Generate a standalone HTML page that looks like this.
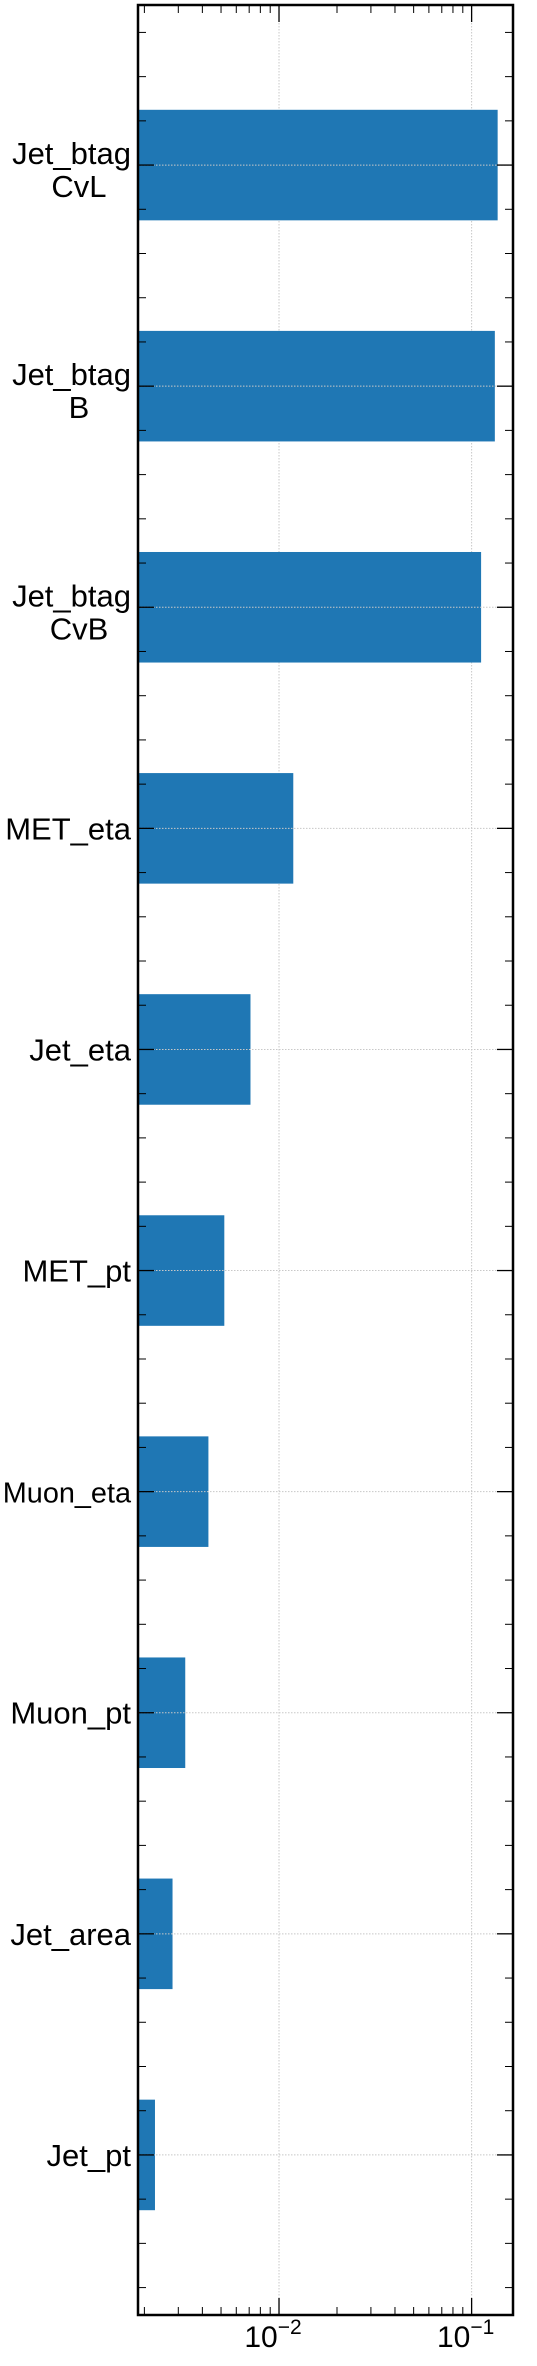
<!DOCTYPE html>
<html><head><meta charset="utf-8"><style>
html,body{margin:0;padding:0;background:#fff;}
svg{display:block;font-family:"Liberation Sans",Arial,sans-serif;}
</style></head><body>
<svg id="chart" width="537" height="2366" viewBox="0 0 537 2366"></svg>
<script>
const categories = [["Jet_btag","CvL"],["Jet_btag","B"],["Jet_btag","CvB"],["MET_eta"],["Jet_eta"],["MET_pt"],["Muon_eta"],["Muon_pt"],["Jet_area"],["Jet_pt"]];
const values = [0.1365,0.132,0.112,0.01186,0.00711,0.0052,0.0043,0.00326,0.0028,0.00227];
const xMajorTicks = [0.01,0.1];
const xTickLabels = ["-2","-1"];
const xMin = 0.001853, xMax = 0.164;
const yMin = -0.724, yMax = 9.724;

const NS="http://www.w3.org/2000/svg";
const svg=document.getElementById('chart');
const L=138,R=513,T=5,B=2315;
function xs(v){return L+(Math.log10(v)-Math.log10(xMin))/(Math.log10(xMax)-Math.log10(xMin))*(R-L);}
function ys(i){return T+(i-yMin)/(yMax-yMin)*(B-T);}
function mk(tag,attrs,parent){const e=document.createElementNS(NS,tag);for(const k in attrs)e.setAttribute(k,attrs[k]);(parent||svg).appendChild(e);return e;}

xMajorTicks.forEach(function(t){
  const g=mk('line',{x1:xs(t),x2:xs(t),y1:T,y2:B,stroke:'#c8c8c8','stroke-width':1,'stroke-dasharray':'1.5,1.5'});
  
  
});
categories.forEach(function(c,i){
  const y=ys(i);
  const r=mk('rect',{x:L,y:y-0.25*(ys(1)-ys(0)),width:xs(values[i])-L,height:0.5*(ys(1)-ys(0)),fill:'#1f77b4'});
  
  
});
categories.forEach(function(c,i){
  const y=ys(i);
  const g=mk('line',{x1:L,x2:R,y1:y,y2:y,stroke:'#c8c8c8','stroke-width':1,'stroke-dasharray':'1.5,1.5'});
  
  
  mk('line',{x1:L,x2:L+16,y1:y,y2:y,stroke:'#000','stroke-width':1.3});
  mk('line',{x1:R,x2:R-16,y1:y,y2:y,stroke:'#000','stroke-width':1.3});
  const t=mk('text',{x:131,'text-anchor':'end','font-size':31,fill:'#000'});
  
  
  if(c.length===2){
    const a=mk('tspan',{x:131,y:y-1},t);a.textContent=c[0];
    const b=mk('tspan',{x:79,y:y+32,'text-anchor':'middle'},t);b.textContent=c[1];
  } else {
    const a=mk('tspan',{x:131,y:y+11},t);a.textContent=c[0];
  }
  // fit overly wide labels into available space
  const w=t.getComputedTextLength ? t.getBBox().width : 0;
  if(w>129){t.setAttribute('font-size',(31*129/w).toFixed(2));}
});
for(let k=Math.ceil(yMin*5);k<=Math.floor(yMax*5);k++){
  if(k%5===0)continue;
  const y=ys(k/5);
  mk('line',{x1:L,x2:L+8,y1:y,y2:y,stroke:'#000','stroke-width':1});
  mk('line',{x1:R,x2:R-8,y1:y,y2:y,stroke:'#000','stroke-width':1});
}
[0.001,0.01,0.1].forEach(function(d){
  for(let m=2;m<=9;m++){const v=d*m;if(v<xMin||v>xMax)continue;const x=xs(v);
    mk('line',{x1:x,x2:x,y1:B,y2:B-8,stroke:'#000','stroke-width':1});
    mk('line',{x1:x,x2:x,y1:T,y2:T+8,stroke:'#000','stroke-width':1});}
});
xMajorTicks.forEach(function(t,i){
  const x=xs(t);
  mk('line',{x1:x,x2:x,y1:B,y2:B-17,stroke:'#000','stroke-width':1.3});
  mk('line',{x1:x,x2:x,y1:T,y2:T+17,stroke:'#000','stroke-width':1.3});
  const tx=mk('text',{x:x-6,y:2347,'text-anchor':'middle','font-size':30,fill:'#000'});
  
  
  const a=mk('tspan',{},tx);a.textContent='10';
  const b=mk('tspan',{dy:-13,'font-size':21},tx);b.textContent='\u2212'+xTickLabels[i].slice(1);
});
const f=mk('rect',{x:L,y:T,width:R-L,height:B-T,fill:'none',stroke:'#000','stroke-width':2.5});


</script>
</body></html>
